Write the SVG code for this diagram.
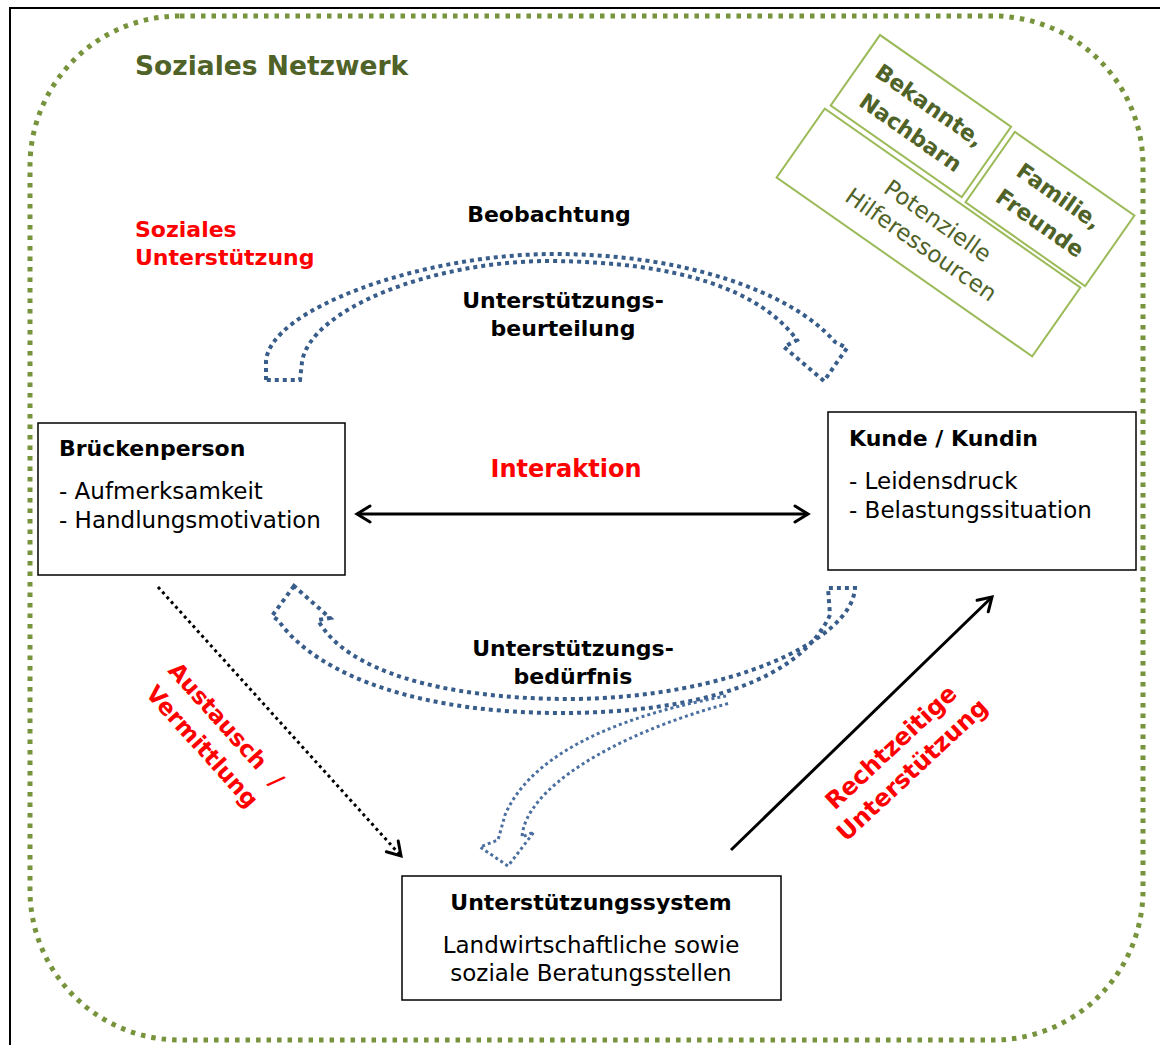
<svg xmlns="http://www.w3.org/2000/svg" width="1160" height="1045" viewBox="0 0 1160 1045">
<style>
text{font-family:"DejaVu Sans","Liberation Sans",sans-serif}
.frame{fill:none;stroke:#000;stroke-width:2}
.net{fill:none;stroke:#77933C;stroke-width:5;stroke-dasharray:4.5 6}
.box{fill:#fff;stroke:#000;stroke-width:1.5}
.gbox{fill:#fff;stroke:#9BBB59;stroke-width:2}
.blk{fill:none;stroke:#385D8A;stroke-width:4;stroke-dasharray:4 4}
.thin{fill:none;stroke:#4A6FA0;stroke-width:3;stroke-dasharray:3 3}
.t{font-size:23px;fill:#000}
.b{font-weight:bold;font-size:22px}
.red{fill:#FF0000;font-weight:bold}
.g{fill:#4F6228;font-size:23px}
.gb{fill:#4F6228;font-size:22px;font-weight:bold}
.line{fill:none;stroke:#000;stroke-width:3}
.dot{fill:none;stroke:#000;stroke-width:3;stroke-dasharray:3 3.5}
</style>
<defs>
<marker id="oa" viewBox="-16 -11 19 22" markerWidth="19" markerHeight="22" refX="0" refY="0" orient="auto-start-reverse" markerUnits="userSpaceOnUse">
<path d="M-13,-8 L0,0 L-13,8" fill="none" stroke="#000" stroke-width="3" stroke-dasharray="none" stroke-linecap="round" stroke-linejoin="miter"/>
</marker>
</defs>
<rect x="0" y="0" width="1160" height="1045" fill="#fff"/>
<rect class="frame" x="10" y="8" width="1200" height="1100"/>
<rect class="net" x="30" y="16" width="1113" height="1024" rx="150" ry="150"/>
<text x="135" y="75" font-size="26.5" font-weight="bold" fill="#4F6228">Soziales Netzwerk</text>

<g id="ressourcen" transform="translate(880,35) rotate(35)">
<g id="bekannte"><rect class="gbox" x="0" y="0" width="160" height="86"/>
<text class="gb" x="81" y="37" text-anchor="middle">Bekannte,</text>
<text class="gb" x="81" y="70" text-anchor="middle">Nachbarn</text></g>
<g id="familie"><rect class="gbox" x="166" y="2" width="146" height="86"/>
<text class="gb" x="239" y="37" text-anchor="middle">Familie,</text>
<text class="gb" x="239" y="70" text-anchor="middle">Freunde</text></g>
<g id="potenzielle"><rect class="gbox" x="-3" y="92" width="312" height="84"/>
<text class="g" x="154" y="127" text-anchor="middle">Potenzielle</text>
<text class="g" x="154" y="156" text-anchor="middle">Hilferessourcen</text></g>
</g>

<g id="labels">
<text class="red" font-size="22" x="135" y="237">Soziales</text>
<text class="red" font-size="22" x="135" y="265">Unterstützung</text>
<text class="t b" font-size="21.5" x="549" y="222" text-anchor="middle">Beobachtung</text>
<text class="t b" x="563" y="308" text-anchor="middle">Unterstützungs-</text>
<text class="t b" x="563" y="336" text-anchor="middle">beurteilung</text>
<text class="red" font-size="24" x="566" y="477" text-anchor="middle">Interaktion</text>
<text class="t b" x="573" y="656" text-anchor="middle">Unterstützungs-</text>
<text class="t b" x="573" y="684" text-anchor="middle">bedürfnis</text>
<g transform="translate(215,735) rotate(48)">
<text class="red" font-size="23" x="0" y="-7" text-anchor="middle">Austausch <tspan dx="8">/</tspan></text>
<text class="red" font-size="23" x="0" y="25" text-anchor="middle">Vermittlung</text>
</g>
<g transform="translate(902,759) rotate(-43)">
<text class="red" font-size="24" x="0" y="-8" text-anchor="middle">Rechtzeitige</text>
<text class="red" font-size="24" x="0" y="23" text-anchor="middle">Unterstützung</text>
</g>
</g>

<g id="connectors">
<path class="blk" d="M266,380 L266,362 C268,310 420,254 555,254 C680,254 790,290 835,342 L847,348 L824,381 L784,347 L797,340 C760,290 680,262 550,261 C430,261 310,310 302,362 L300,380 Z"/>
<path class="blk" d="M294,586 L272,616 L278,620 C320,680 430,713 560,713 C700,713 800,680 830,615 L828,588 L855,588 C852,640 730,698 570,699 C440,699 345,670 318,620 L330,618 Z"/>
<path class="thin" d="M726,696 C640,712 535,745 505,815 L498,840 L480,847 L508,866 L534,832 L522,837 C525,790 610,735 730,703"/>
<line class="line" x1="357" y1="514" x2="808" y2="514" marker-start="url(#oa)" marker-end="url(#oa)"/>
<line class="dot" x1="158" y1="587" x2="401" y2="856" marker-end="url(#oa)"/>
<line class="line" x1="731" y1="850" x2="992" y2="597" marker-end="url(#oa)"/>
</g>

<g id="brueckenperson">
<rect class="box" x="38" y="423" width="307" height="152"/>
<text class="t b" font-size="21.5" x="59" y="456">Brückenperson</text>
<text class="t" x="59" y="499">- Aufmerksamkeit</text>
<text class="t" x="59" y="528">- Handlungsmotivation</text>
</g>
<g id="kunde">
<rect class="box" x="828" y="412" width="308" height="158"/>
<text class="t b" x="849" y="446">Kunde / Kundin</text>
<text class="t" x="849" y="489">- Leidensdruck</text>
<text class="t" x="849" y="518">- Belastungssituation</text>
</g>
<g id="unterstuetzungssystem">
<rect class="box" x="402" y="876" width="379" height="124"/>
<text class="t b" x="591" y="910" text-anchor="middle">Unterstützungssystem</text>
<text class="t" x="591" y="953" text-anchor="middle">Landwirtschaftliche sowie</text>
<text class="t" x="591" y="981" text-anchor="middle">soziale Beratungsstellen</text>
</g>
</svg>
